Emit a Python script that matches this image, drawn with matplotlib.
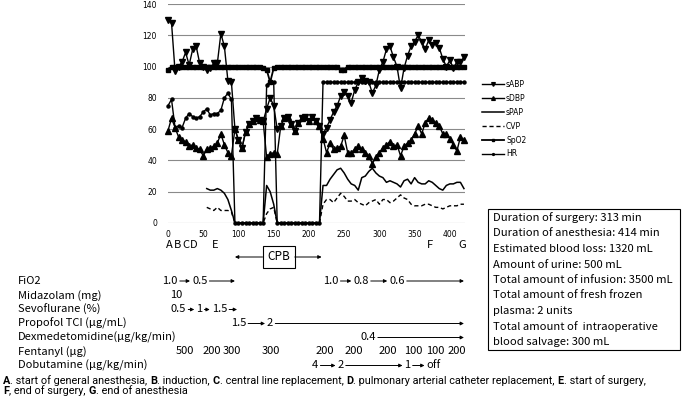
import numpy as np
import matplotlib
matplotlib.use("Agg")
import matplotlib.pyplot as plt
from matplotlib import transforms
from matplotlib.patches import Rectangle

# time axis (min), one reading every 5 min
minutes = list(range(0, 425, 5))
N = None

sabp = [130, 128, 97, 100, 103, 109, 101, 111, 113, 102,
        100, 98, 99, 102, 102, 121, 113, 91, 90, 60,
        53, 48, 58, 63, 65, 67, 66, 65, 73, 80,
        75, 60, 62, 67, 68, 63, 59, 64, 67, 68,
        65, 68, 65, 62, 57, 61, 66, 71, 75, 81,
        84, 81, 77, 85, 90, 93, 91, 90, 83, 88,
        98, 103, 111, 113, 106, 100, 86, 99, 107, 113,
        116, 120, 116, 111, 117, 114, 115, 112, 105, 100,
        104, 99, 103, 103, 106]
sdbp = [59, 67, 61, 55, 53, 52, 49, 50, 48, 47,
        43, 47, 48, 49, 51, 57, 50, 45, 43, 60,
        53, 48, 58, 63, 65, 67, 66, 65, 42, 44,
        45, 44, 62, 67, 68, 63, 59, 64, 67, 68,
        65, 68, 65, 62, 54, 45, 51, 47, 48, 49,
        56, 45, 45, 47, 49, 47, 45, 43, 38, 42,
        45, 48, 50, 52, 49, 50, 43, 49, 51, 53,
        57, 62, 57, 64, 67, 66, 64, 62, 57, 57,
        54, 50, 46, 55, 53]
spap = [N, N, N, N, N, N, N, N, N, N,
        N, 22, 21, 21, 22, 21, 19, 15, 8, 0,
        0, 0, 0, 0, 0, 0, 0, 0, 24, 20,
        12, 0, 0, 0, 0, 0, 0, 0, 0, 0,
        0, 0, 0, 0, 24, 24, 28, 31, 34, 35,
        32, 28, 25, 24, 21, 29, 30, 33, 35, 32,
        30, 29, 26, 27, 26, 25, 23, 27, 28, 25,
        29, 26, 25, 25, 27, 26, 24, 22, 21, 24,
        25, 25, 26, 26, 22]
cvp = [N, N, N, N, N, N, N, N, N, N,
       N, 10, 9, 8, 10, 8, 8, 8, 7, 0,
       0, 0, 0, 0, 0, 0, 0, 0, 6, 9,
       10, 0, 0, 0, 0, 0, 0, 0, 0, 0,
       0, 0, 0, 0, 12, 15, 15, 13, 16, 19,
       17, 14, 14, 15, 13, 12, 11, 13, 14, 15,
       12, 15, 15, 13, 14, 16, 18, 16, 15, 12,
       11, 11, 11, 12, 12, 11, 10, 10, 9, 10,
       11, 11, 11, 12, 12]
spo2 = [98, 100, 100, 100, 100, 100, 100, 100, 100, 100,
        100, 100, 100, 100, 100, 100, 100, 100, 100, 100,
        100, 100, 100, 100, 100, 100, 100, 99, 98, 90,
        99, 100, 100, 100, 100, 100, 100, 100, 100, 100,
        100, 100, 100, 100, 100, 100, 100, 100, 100, 98,
        98, 100, 100, 100, 100, 100, 100, 100, 100, 100,
        100, 100, 100, 100, 100, 100, 100, 100, 100, 100,
        100, 100, 100, 100, 100, 100, 100, 100, 100, 100,
        100, 100, 100, 100, 100]
hr = [75, 79, 61, 62, 61, 67, 70, 68, 67, 68,
      71, 73, 69, 70, 70, 72, 80, 83, 79, 0,
      0, 0, 0, 0, 0, 0, 0, 0, 88, 91,
      90, 0, 0, 0, 0, 0, 0, 0, 0, 0,
      0, 0, 0, 0, 90, 90, 90, 90, 90, 90,
      90, 90, 90, 90, 90, 90, 90, 90, 90, 90,
      90, 90, 90, 90, 90, 90, 90, 90, 90, 90,
      90, 90, 90, 90, 90, 90, 90, 90, 90, 90,
      90, 90, 90, 90, 90]

# events below the time axis
event_names = ["A", "B", "C", "D", "E", "F", "G"]
event_times = [1.5, 13, 25.5, 36, 67, 372, 418]
cpb_start, cpb_end = 95, 218

# drug / gas table: (text, minute)
drug_rows = ["FiO2", "Midazolam (mg)", "Sevoflurane (%)", "Propofol TCI (μg/mL)",
             "Dexmedetomidine(μg/kg/min)", "Fentanyl (μg)", "Dobutamine (μg/kg/min)"]
fio2_a = [("1.0", 3), ("0.5", 45)]
fio2_b = [("1.0", 231), ("0.8", 274), ("0.6", 325)]
midazolam = [("10", 11)]
sevo = [("0.5", 15), ("1", 44.5), ("1.5", 73)]
propofol = [("1.5", 100), ("2", 145)]
dexmed = [("0.4", 284)]
fentanyl = [("500", 24), ("200", 62), ("300", 91), ("300", 146), ("200", 223),
            ("200", 264), ("200", 312), ("100", 348), ("100", 379), ("200", 410)]
dobutamine = [("4", 209), ("2", 245), ("1", 340), ("off", 377)]

summary = ["Duration of surgery: 313 min",
           "Duration of anesthesia: 414 min",
           "Estimated blood loss: 1320 mL",
           "Amount of urine: 500 mL",
           "Total amount of infusion: 3500 mL",
           "Total amount of fresh frozen",
           "plasma: 2 units",
           "Total amount of  intraoperative",
           "blood salvage: 300 mL"]

# caption pieces: (text, bold)
caption1 = [("A", True), (". start of general anesthesia, ", False),
            ("B", True), (". induction, ", False),
            ("C", True), (". central line replacement, ", False),
            ("D", True), (". pulmonary arterial catheter replacement, ", False),
            ("E", True), (". start of surgery,", False)]
caption2 = [("F", True), (", end of surgery, ", False),
            ("G", True), (". end of anesthesia", False)]


def arr(v):
    return np.array([np.nan if x is None else x for x in v], dtype=float)


W, H = 685, 396
fig = plt.figure(figsize=(W / 100, H / 100), dpi=100)
ax = fig.add_axes([168 / W, 1 - 223 / H, 297 / W, 219 / H])
ax.patch.set_visible(False)

k = dict(color="black", clip_on=False)
ax.plot(minutes, arr(sabp), lw=1.0, marker="v", ms=4.5, label="sABP", **k)
ax.plot(minutes, arr(sdbp), lw=1.0, marker="^", ms=4.5, label="sDBP", **k)
ax.plot(minutes, arr(spap), lw=1.1, label="sPAP", **k)
ax.plot(minutes, arr(cvp), lw=1.0, ls=(0, (3, 2)), label="CVP", **k)
ax.plot(minutes, arr(spo2), lw=1.3, marker="s", ms=2.6, label="SpO2", **k)
ax.plot(minutes, arr(hr), lw=1.0, marker="o", ms=2.2, label="HR", **k)

ax.set_xlim(0, 421.5)
ax.set_ylim(0, 140)
ax.set_yticks(range(0, 141, 20))
ax.set_xticks(range(0, 401, 50))
ax.grid(axis="y", color="#8a8a8a", lw=0.8)
ax.set_axisbelow(True)
for s in ax.spines.values():
    s.set_visible(False)
ax.tick_params(length=0, labelsize=5.5)
ax.tick_params(axis="y", pad=8)
ax.tick_params(axis="x", pad=5)

fig.legend(loc="upper left", bbox_to_anchor=(482 / W, 1 - 80 / H), frameon=False,
           fontsize=5.5, handlelength=2.9, handletextpad=0.25, labelspacing=0.64,
           borderpad=0, borderaxespad=0, markerscale=0.6)

# overlay in pixel coordinates for the annotations below the chart
ov = fig.add_axes([0, 0, 1, 1], zorder=3)
ov.set_xlim(0, W)
ov.set_ylim(H, 0)
ov.axis("off")
blend = transforms.blended_transform_factory(ax.transData, ov.transData)
renderer = fig.canvas.get_renderer()

jp = dict(family=["Noto Sans CJK JP", "DejaVu Sans"], fontsize=8)


def tx_px(t):
    return ax.transData.transform((t, 0))[0]


def arrow(x0, x1, y):
    yy = ov.transData.transform((0, y))[1]
    ov.annotate("", xy=(x1, yy), xytext=(x0, yy), xycoords="figure pixels",
                textcoords="figure pixels",
                arrowprops=dict(arrowstyle="-|>", lw=0.7, color="black",
                                mutation_scale=5, shrinkA=0, shrinkB=0))


def chain(y, items, end=None, gap=2, arrows=True):
    prev = None
    for s, t in items:
        txt = ov.text(t, y, s, transform=blend, ha="center", va="center", **jp)
        bb = txt.get_window_extent(renderer)
        if arrows and prev is not None:
            arrow(prev + gap, bb.x0 - gap, y)
        prev = bb.x1
    if end is not None:
        arrow(prev + gap, tx_px(end), y)


for name, t in zip(event_names, event_times):
    ov.text(t, 245, name, transform=blend, ha="center", va="center", **jp)

cpb = ov.text((cpb_start + cpb_end) / 2 + 0.5, 257, "CPB", transform=blend,
              ha="center", va="center",
              bbox=dict(boxstyle="square,pad=0.4", fc="white", ec="black", lw=0.8),
              family=["Noto Sans CJK JP", "DejaVu Sans"], fontsize=8.5)
fig.canvas.draw()
cbb = cpb.get_bbox_patch().get_window_extent(renderer)
arrow(cbb.x0, tx_px(cpb_start), 257)
arrow(cbb.x1, tx_px(cpb_end), 257)

row_y = [281, 295.5, 309.5, 323.5, 337.5, 351.5, 365.5]
for name, y in zip(drug_rows, row_y):
    ov.text(18, y, name, ha="left", va="center", **jp)

chain(row_y[0], fio2_a, end=cpb_start)
chain(row_y[0], fio2_b, end=420)
chain(row_y[1], midazolam)
chain(row_y[2], sevo, end=98)
chain(row_y[3], propofol, end=420)
chain(row_y[4], dexmed, end=420)
chain(row_y[5], fentanyl, arrows=False)
chain(row_y[6], dobutamine)

ov.add_patch(Rectangle((488, 209), 192, 141, fill=False, ec="black", lw=0.8))
for i, line in enumerate(summary):
    ov.text(493, 218 + 15.5 * i, line, ha="left", va="center",
            family=["Noto Sans CJK JP", "DejaVu Sans"], fontsize=8.1)

# caption with bold letters, drawn piece by piece
cap = dict(family=["Roboto", "DejaVu Sans"], fontsize=7.8)


def width_px(s, weight):
    a = ov.text(0, 0, s + "|", fontweight=weight, **cap)
    b = ov.text(0, 0, "|", fontweight=weight, **cap)
    w = a.get_window_extent(renderer).width - b.get_window_extent(renderer).width
    a.remove()
    b.remove()
    return w


def rich_line(x, y, parts):
    for s, bold in parts:
        wt = "bold" if bold else "normal"
        ov.text(x, y, s, ha="left", va="baseline", fontweight=wt, **cap)
        x += width_px(s, wt)


rich_line(3, 383.5, caption1)
rich_line(3, 394, caption2)

fig.savefig("out.png", dpi=100)
